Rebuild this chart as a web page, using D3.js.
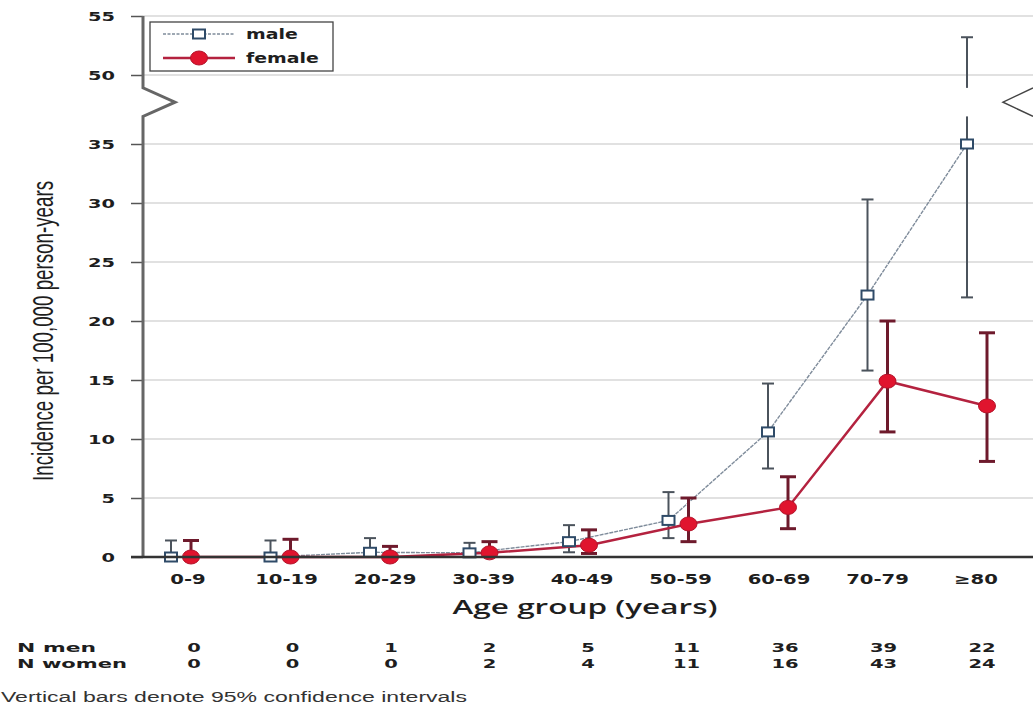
<!DOCTYPE html>
<html><head><meta charset="utf-8">
<script src="https://cdn.jsdelivr.net/npm/d3@7"></script>
<style>body{margin:0;background:#fff;}svg{display:block;}</style>
</head><body>
<svg id="c" width="1033" height="707"></svg>
<script>
const categories = ["0-9","10-19","20-29","30-39","40-49","50-59","60-69","70-79","≥80"];
const maleRate   = [0, 0, 0.4, 0.35, 1.3, 3.1, 10.6, 22.2, 35.0];
const maleLow    = [0, 0, 0, 0, 0.4, 1.6, 7.5, 15.8, 22.0];
const maleHigh   = [1.4, 1.4, 1.6, 1.2, 2.7, 5.5, 14.7, 30.3, 53.2];
const femaleRate = [0, 0, 0, 0.35, 1.0, 2.8, 4.2, 14.9, 12.8];
const femaleLow  = [0, 0, 0, 0, 0.3, 1.3, 2.4, 10.6, 8.1];
const femaleHigh = [1.4, 1.5, 0.9, 1.3, 2.3, 5.0, 6.8, 20.0, 19.0];
const nMen   = [0, 0, 1, 2, 5, 11, 36, 39, 22];
const nWomen = [0, 0, 0, 2, 4, 11, 16, 43, 24];
const yTicks = [0, 5, 10, 15, 20, 25, 30, 35, 50, 55];
const breakLow = 41, breakHigh = 47.2;

const svg = d3.select("#c");
const left = 143, right = 1033;
const y = d3.scaleLinear().domain([0, 35, 50, 55]).range([557, 144, 75, 16]);
const x = d3.scalePoint().domain(categories).range([181, 977]);
const xl = d3.scalePoint().domain(categories).range([188, 976]);
const off = d3.scalePoint().domain(["male", "female"]).range([-10, 10]);
const boldFont = "DejaVu Sans, Verdana, sans-serif";

function txt(g, tx, ty, s, o) {
  return g.append("text")
    .attr("transform", `translate(${tx},${ty}) scale(${o.sx || 1},1)`)
    .attr("text-anchor", o.anchor || "start")
    .attr("font-family", o.family || boldFont)
    .attr("font-weight", o.weight || "bold")
    .attr("font-size", o.size)
    .attr("fill", o.fill || "#1e1e1e")
    .text(s);
}

// gridlines
svg.append("g").selectAll("line").data(yTicks.filter(d => d > 0)).join("line")
  .attr("x1", left).attr("x2", right).attr("y1", d => y(d)).attr("y2", d => y(d))
  .attr("stroke", "#c4c4c4").attr("stroke-width", 1.2);

// y axis ticks
const yAxis = d3.axisLeft(y).tickValues(yTicks).tickSize(12).tickFormat("");
const ga = svg.append("g").attr("transform", `translate(${left},0)`).call(yAxis);
ga.select(".domain").remove();
ga.selectAll(".tick line").attr("stroke", "#555").attr("stroke-width", 1.5);
const gyl = svg.append("g");
yTicks.forEach(t => txt(gyl, 115, y(t) + 4.5, String(t), {size: 12.5, sx: 1.55, anchor: "end"}));

// data
const male = categories.map((c, i) => ({c, v: maleRate[i], lo: maleLow[i], hi: maleHigh[i]}));
const female = categories.map((c, i) => ({c, v: femaleRate[i], lo: femaleLow[i], hi: femaleHigh[i]}));
const mx = d => x(d.c) + off("male");
const fx = d => x(d.c) + off("female");

function errorBars(data, xf, color, width, cap) {
  const g = svg.append("g");
  g.selectAll(".v").data(data).join("line")
    .attr("x1", xf).attr("x2", xf).attr("y1", d => y(d.lo)).attr("y2", d => y(d.hi))
    .attr("stroke", color).attr("stroke-width", width);
  g.selectAll(".t").data(data).join("line")
    .attr("x1", d => xf(d) - cap / 2).attr("x2", d => xf(d) + cap / 2)
    .attr("y1", d => y(d.hi)).attr("y2", d => y(d.hi))
    .attr("stroke", color).attr("stroke-width", width);
  g.selectAll(".b").data(data.filter(d => d.lo > 0)).join("line")
    .attr("x1", d => xf(d) - cap / 2).attr("x2", d => xf(d) + cap / 2)
    .attr("y1", d => y(d.lo)).attr("y2", d => y(d.lo))
    .attr("stroke", color).attr("stroke-width", width);
}

errorBars(male, mx, "#4b535c", 2, 12);
svg.append("path").datum(male)
  .attr("d", d3.line().x(mx).y(d => y(d.v)))
  .attr("fill", "none").attr("stroke", "#7f8c9b").attr("stroke-width", 1.4).attr("stroke-dasharray", "4,1");
errorBars(female, fx, "#6e1a2c", 3, 16);
svg.append("path").datum(female)
  .attr("d", d3.line().x(fx).y(d => y(d.v)))
  .attr("fill", "none").attr("stroke", "#b4223f").attr("stroke-width", 2.5);

svg.append("g").selectAll("rect").data(male).join("rect")
  .attr("x", d => mx(d) - 6).attr("y", d => y(d.v) - 4.5).attr("width", 12).attr("height", 9)
  .attr("fill", "#fff").attr("stroke", "#2f4b68").attr("stroke-width", 2);
svg.append("g").selectAll("ellipse").data(female).join("ellipse")
  .attr("cx", fx).attr("cy", d => y(d.v)).attr("rx", 8.5).attr("ry", 7)
  .attr("fill", "#e0142e").attr("stroke", "#b3132a").attr("stroke-width", 1);

// axis break band
svg.append("rect").attr("x", left).attr("width", right - left)
  .attr("y", y(breakHigh)).attr("height", y(breakLow) - y(breakHigh)).attr("fill", "#fff");

// left axis with zigzag
const yb1 = y(breakHigh), yb2 = y(breakLow), ybm = (yb1 + yb2) / 2;
svg.append("path")
  .attr("d", `M${left},${y(55)}V${yb1}L${left + 32},${ybm}L${left},${yb2}V${y(0)}`)
  .attr("fill", "none").attr("stroke", "#666").attr("stroke-width", 3);
// right zigzag
svg.append("path")
  .attr("d", `M${right},${yb1}L${right - 30},${ybm}L${right},${yb2}`)
  .attr("fill", "none").attr("stroke", "#444").attr("stroke-width", 1.5);
// bottom axis
svg.append("line").attr("x1", left - 12).attr("x2", right).attr("y1", y(0)).attr("y2", y(0))
  .attr("stroke", "#333").attr("stroke-width", 2.5);

// x labels
const gxl = svg.append("g");
categories.forEach(c => txt(gxl, xl(c), 584, c, {size: 14, sx: 1.4, anchor: "middle"}));

svg.append("text").attr("x", 585).attr("y", 614).attr("text-anchor", "middle")
  .attr("font-family", "Open Sans, sans-serif").attr("font-weight", 600).attr("font-size", 20).attr("fill", "#1e1e1e")
  .attr("textLength", 265).attr("lengthAdjust", "spacingAndGlyphs")
  .text("Age group (years)");

svg.append("text").attr("transform", "translate(53,331) rotate(-90) scale(1,1.45)").attr("text-anchor", "middle")
  .attr("font-family", "Liberation Sans Narrow, Arial Narrow, sans-serif").attr("font-size", 20).attr("fill", "#1e1e1e")
  .attr("textLength", 300).attr("lengthAdjust", "spacingAndGlyphs")
  .text("Incidence per 100,000 person-years");

// N table
const rows = [{label: "N men", vals: nMen, yy: 652, w: 79}, {label: "N women", vals: nWomen, yy: 668, w: 110}];
const gt = svg.append("g");
rows.forEach(r => {
  gt.append("text").attr("x", 17).attr("y", r.yy).attr("font-family", boldFont).attr("font-weight", "bold")
    .attr("font-size", 13).attr("fill", "#1e1e1e")
    .attr("textLength", r.w).attr("lengthAdjust", "spacingAndGlyphs").text(r.label);
  r.vals.forEach((v, i) => txt(gt, xl(categories[i]) + 6, r.yy, String(v), {size: 13, sx: 1.5, anchor: "middle"}));
});

svg.append("text").attr("x", 1).attr("y", 702)
  .attr("font-family", "Liberation Sans, Arial, sans-serif").attr("font-size", 14).attr("fill", "#333")
  .attr("textLength", 466).attr("lengthAdjust", "spacingAndGlyphs")
  .text("Vertical bars denote 95% confidence intervals");

// legend
const lg = svg.append("g");
lg.append("rect").attr("x", 150).attr("y", 22).attr("width", 183).attr("height", 49)
  .attr("fill", "#fff").attr("stroke", "#444").attr("stroke-width", 1.3);
lg.append("line").attr("x1", 163).attr("x2", 235).attr("y1", 34).attr("y2", 34)
  .attr("stroke", "#7f8c9b").attr("stroke-width", 1.4).attr("stroke-dasharray", "3,1.5");
lg.append("rect").attr("x", 193).attr("y", 29.5).attr("width", 12).attr("height", 9)
  .attr("fill", "#fff").attr("stroke", "#2f4b68").attr("stroke-width", 2);
lg.append("line").attr("x1", 163).attr("x2", 235).attr("y1", 58).attr("y2", 58)
  .attr("stroke", "#b4223f").attr("stroke-width", 2.5);
lg.append("ellipse").attr("cx", 199).attr("cy", 58).attr("rx", 8.5).attr("ry", 7)
  .attr("fill", "#e0142e").attr("stroke", "#b3132a");
txt(lg, 246, 39, "male", {size: 14, sx: 1.35});
txt(lg, 246, 63, "female", {size: 14, sx: 1.35});
</script>
</body></html>
